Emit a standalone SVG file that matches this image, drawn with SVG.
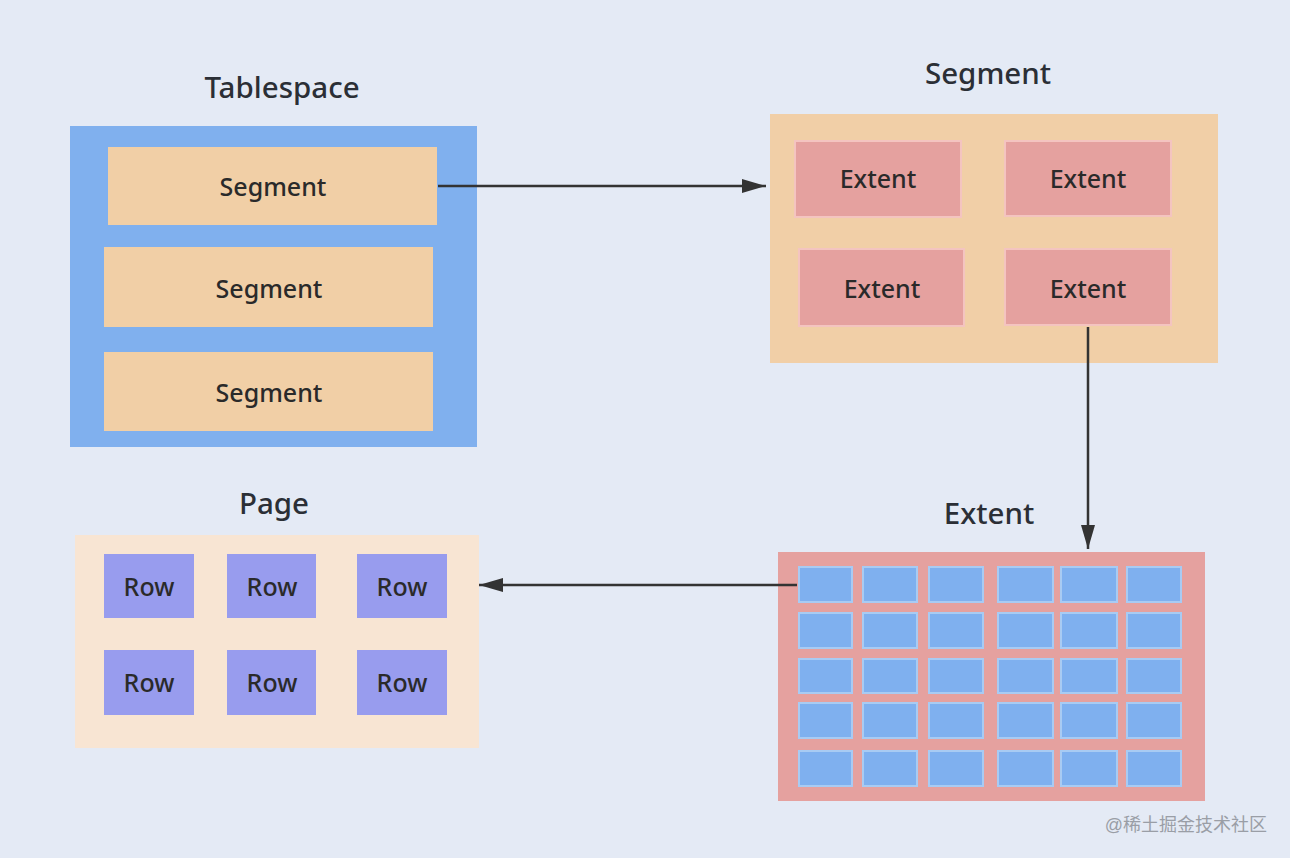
<svg xmlns="http://www.w3.org/2000/svg" width="1290" height="858" viewBox="0 0 1290 858">
<defs>
<style>
.title{font-family:"Noto Sans","Liberation Sans",Arial,sans-serif;font-size:29.5px;font-weight:500;fill:#2b2f36;text-anchor:middle}
.lbl{font-family:"Noto Sans","Liberation Sans",Arial,sans-serif;font-size:25px;fill:#2a2a2a;text-anchor:middle;font-weight:500}
.seg{fill:#f1cfa6}
.ext{fill:#e5a19f;stroke:#f4c4c0;stroke-width:2}
.cell{fill:#7fb0ef;stroke:#a8cbf3;stroke-width:2}
.row{fill:#989cee}
.conn{stroke:#333;stroke-width:2.5;fill:none}
</style>
<marker id="ah" viewBox="0 0 24 14" refX="24" refY="7" markerWidth="24" markerHeight="14" markerUnits="userSpaceOnUse" orient="auto">
<path d="M0,0 L24,7 L0,14 z" fill="#333"/>
</marker>
</defs>
<rect width="1290" height="858" fill="#e4eaf5"/>

<g id="tablespace">
<text class="title" x="282" y="98">Tablespace</text>
<rect x="70" y="126" width="407" height="321" fill="#80b0ee"/>
<rect class="seg" x="108" y="147" width="329" height="78"/>
<text class="lbl" x="273" y="196">Segment</text>
<rect class="seg" x="104" y="247" width="329" height="80"/>
<text class="lbl" x="269" y="298">Segment</text>
<rect class="seg" x="104" y="352" width="329" height="79"/>
<text class="lbl" x="269" y="402">Segment</text>
</g>

<g id="segment">
<text class="title" x="988" y="84">Segment</text>
<rect x="770" y="114" width="448" height="249" fill="#f1cfa7"/>
<rect class="ext" x="795" y="141" width="166" height="76"/>
<text class="lbl" x="878" y="188">Extent</text>
<rect class="ext" x="1005" y="141" width="166" height="75"/>
<text class="lbl" x="1088" y="188">Extent</text>
<rect class="ext" x="799" y="249" width="165" height="77"/>
<text class="lbl" x="882" y="298">Extent</text>
<rect class="ext" x="1005" y="249" width="166" height="76"/>
<text class="lbl" x="1088" y="298">Extent</text>
</g>

<g id="extent">
<text class="title" x="989" y="524">Extent</text>
<rect x="778" y="552" width="427" height="249" fill="#e5a19f"/>
<g>
<rect class="cell" x="799" y="567" width="53" height="35"/><rect class="cell" x="863" y="567" width="54" height="35"/><rect class="cell" x="929" y="567" width="54" height="35"/><rect class="cell" x="998" y="567" width="55" height="35"/><rect class="cell" x="1061" y="567" width="56" height="35"/><rect class="cell" x="1127" y="567" width="54" height="35"/>
<rect class="cell" x="799" y="613" width="53" height="35"/><rect class="cell" x="863" y="613" width="54" height="35"/><rect class="cell" x="929" y="613" width="54" height="35"/><rect class="cell" x="998" y="613" width="55" height="35"/><rect class="cell" x="1061" y="613" width="56" height="35"/><rect class="cell" x="1127" y="613" width="54" height="35"/>
<rect class="cell" x="799" y="659" width="53" height="34"/><rect class="cell" x="863" y="659" width="54" height="34"/><rect class="cell" x="929" y="659" width="54" height="34"/><rect class="cell" x="998" y="659" width="55" height="34"/><rect class="cell" x="1061" y="659" width="56" height="34"/><rect class="cell" x="1127" y="659" width="54" height="34"/>
<rect class="cell" x="799" y="703" width="53" height="35"/><rect class="cell" x="863" y="703" width="54" height="35"/><rect class="cell" x="929" y="703" width="54" height="35"/><rect class="cell" x="998" y="703" width="55" height="35"/><rect class="cell" x="1061" y="703" width="56" height="35"/><rect class="cell" x="1127" y="703" width="54" height="35"/>
<rect class="cell" x="799" y="751" width="53" height="35"/><rect class="cell" x="863" y="751" width="54" height="35"/><rect class="cell" x="929" y="751" width="54" height="35"/><rect class="cell" x="998" y="751" width="55" height="35"/><rect class="cell" x="1061" y="751" width="56" height="35"/><rect class="cell" x="1127" y="751" width="54" height="35"/>
</g>
</g>

<g id="page">
<text class="title" x="274" y="514">Page</text>
<rect x="75" y="535" width="404" height="213" fill="#f8e5d3"/>
<rect class="row" x="104" y="554" width="90" height="64"/>
<text class="lbl" x="149" y="596">Row</text>
<rect class="row" x="227" y="554" width="89" height="64"/>
<text class="lbl" x="272" y="596">Row</text>
<rect class="row" x="357" y="554" width="90" height="64"/>
<text class="lbl" x="402" y="596">Row</text>
<rect class="row" x="104" y="650" width="90" height="65"/>
<text class="lbl" x="149" y="692">Row</text>
<rect class="row" x="227" y="650" width="89" height="65"/>
<text class="lbl" x="272" y="692">Row</text>
<rect class="row" x="357" y="650" width="90" height="65"/>
<text class="lbl" x="402" y="692">Row</text>
</g>

<g id="connectors">
<line class="conn" x1="438" y1="186" x2="766" y2="186" marker-end="url(#ah)"/>
<line class="conn" x1="1088" y1="327" x2="1088" y2="549" marker-end="url(#ah)"/>
<line class="conn" x1="797" y1="585" x2="479" y2="585" marker-end="url(#ah)"/>
</g>

<text x="1267" y="831" text-anchor="end" font-family="'Liberation Sans','Noto Sans CJK SC',sans-serif" font-size="18" fill="#9a9ea6">@稀土掘金技术社区</text>
</svg>
